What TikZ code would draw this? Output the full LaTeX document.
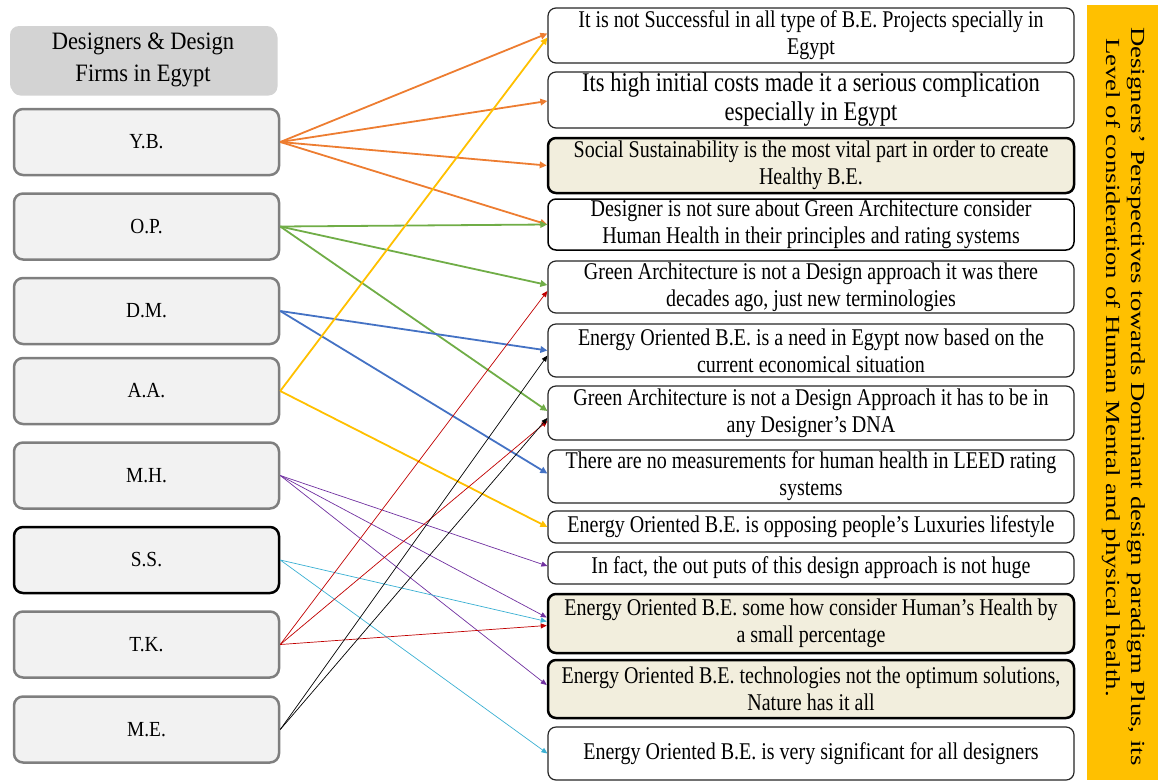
\documentclass[tikz,border=0pt]{standalone}
\usepackage{fontspec}
\setmainfont{Liberation Serif}
\newfontfamily\boxfont[FakeStretch=0.834]{Liberation Serif}
\newfontfamily\firmfont[FakeStretch=0.9]{Liberation Serif}
\newfontfamily\barfont[FakeStretch=1.34]{Liberation Serif}
\usetikzlibrary{arrows.meta,shadows}

\definecolor{cOrange}{HTML}{ED7D31}
\definecolor{cGreen}{HTML}{70AD47}
\definecolor{cBlue}{HTML}{4472C4}
\definecolor{cYellow}{HTML}{FFC000}
\definecolor{cPurple}{HTML}{7030A0}
\definecolor{cCyan}{HTML}{3BB0D3}
\definecolor{cRed}{HTML}{C00000}
\definecolor{firmFill}{HTML}{F2F2F2}
\definecolor{firmEdge}{HTML}{7F7F7F}
\definecolor{headFill}{HTML}{D3D3D3}
\definecolor{keyFill}{HTML}{F2EEDD}
\definecolor{barFill}{HTML}{FFC000}

\begin{document}
\begin{tikzpicture}[x=1pt,y=-1pt,
  firm/.style={draw=firmEdge, line width=2.5pt, fill=firmFill, rounded corners=9pt,
    minimum width=265pt, minimum height=66pt, inner sep=0pt,
    font=\firmfont\fontsize{21.5}{24}\selectfont},
  keyfirm/.style={firm, draw=black},
  head/.style={fill=headFill, rounded corners=9pt, minimum width=266pt, minimum height=67pt,
    inner sep=0pt, align=center, font=\firmfont\fontsize{25}{32}\selectfont,
    drop shadow={opacity=0.35, shadow xshift=1.5pt, shadow yshift=-2.5pt}},
  view/.style={draw=black!85, line width=1.2pt, fill=white, rounded corners=8pt,
    minimum width=526pt, inner sep=0pt, align=center,
    font=\boxfont\fontsize{24}{27}\selectfont},
  keyview/.style={view, fill=keyFill, draw=black, line width=2.5pt},
  bartext/.style={rotate=-90, inner sep=0pt, font=\barfont\fontsize{20}{25}\selectfont},
  link/.style={line width=1.8pt, -{Triangle[length=7pt,width=6.5pt]}},
  fine/.style={line width=0.7pt, -{Triangle[length=6pt,width=5pt]}}
]
\useasboundingbox (0,0) rectangle (1158,782);

% designers and firms
\node[head] (head) at (143,59.5) {Designers \& Design\\Firms in Egypt};
\node[firm] (yb) at (146.5,142) {Y.B.};
\node[firm] (op) at (146.5,226.5) {O.P.};
\node[firm] (dm) at (146.5,311) {D.M.};
\node[firm] (aa) at (146.5,391) {A.A.};
\node[firm] (mh) at (146.5,475.5) {M.H.};
\node[keyfirm] (ss) at (146.5,560) {S.S.};
\node[firm] (tk) at (146.5,644.5) {T.K.};
\node[firm] (me) at (146.5,729.5) {M.E.};

% perspectives
\node[view, minimum height=55pt] (v1) at (811,35.5)
  {It is not Successful in all type of B.E. Projects specially in\\Egypt};
\node[view, minimum height=56pt, font=\boxfont\fontsize{27}{29}\selectfont] (v2) at (811,100)
  {Its high initial costs made it a serious complication\\especially in Egypt};
\node[keyview, minimum height=55pt] (v3) at (811,165.5)
  {Social Sustainability is the most vital part in order to create\\Healthy B.E.};
\node[view, minimum height=51pt, draw=black, line width=1.5pt] (v4) at (811,224.5)
  {Designer is not sure about Green Architecture consider\\Human Health in their principles and rating systems};
\node[view, minimum height=52pt] (v5) at (811,287)
  {Green Architecture is not a Design approach it was there\\decades ago, just new terminologies};
\node[view, minimum height=53pt] (v6) at (811,350.5)
  {Energy Oriented B.E. is a need in Egypt now based on the\\current economical situation};
\node[view, minimum height=54pt] (v7) at (811,413)
  {Green Architecture is not a Design Approach it has to be in\\any Designer’s DNA};
\node[view, minimum height=53pt] (v8) at (811,476.5)
  {There are no measurements for human health in LEED rating\\systems};
\node[view, minimum height=32pt] (v9) at (811,527)
  {Energy Oriented B.E. is opposing people’s Luxuries lifestyle};
\node[view, minimum height=32pt] (v10) at (811,568)
  {In fact, the out puts of this design approach is not huge};
\node[keyview, minimum height=59pt] (v11) at (811,623.5)
  {Energy Oriented B.E. some how consider Human’s Health by\\a small percentage};
\node[keyview, minimum height=58pt] (v12) at (811,689)
  {Energy Oriented B.E. technologies not the optimum solutions,\\Nature has it all};
\node[view, minimum height=53pt] (v13) at (811,753.5)
  {Energy Oriented B.E. is very significant for all designers};

% side banner
\node[fill=barFill, minimum width=71pt, minimum height=775pt, inner sep=0pt] (bar) at (1122.5,392.5) {};
\node[bartext, anchor=base west] (bar1) at (1131,27)
  {Designers’ Perspectives towards Dominant design paradigm Plus, its};
\node[bartext, anchor=base west] (bar2) at (1106,38)
  {Level of consideration of Human Mental and physical health.};

% Y.B.
\draw[link, cOrange] (yb.east) -- ([yshift=2pt]v1.west);
\draw[link, cOrange] (yb.east) -- ([yshift=-1pt]v2.west);
\draw[link, cOrange] (yb.east) -- (v3.west);
\draw[link, cOrange] (yb.east) -- (v4.west);
% O.P.
\draw[link, cGreen] (op.east) -- (v4.west);
\draw[link, cGreen] (op.east) -- ([yshift=2pt]v5.west);
\draw[link, cGreen] (op.east) -- ([yshift=2pt]v7.west);
% D.M.
\draw[link, cBlue] (dm.east) -- (v6.west);
\draw[link, cBlue] (dm.east) -- ([yshift=3pt]v8.west);
% A.A.
\draw[link, cYellow] (aa.east) -- ([yshift=-2pt]v1.west);
\draw[link, cYellow] (aa.east) -- (v9.west);
% M.H.
\draw[fine, cPurple] (mh.east) -- ([yshift=2pt]v10.west);
\draw[fine, cPurple] (mh.east) -- ([yshift=6pt]v11.west);
\draw[fine, cPurple] (mh.east) -- ([yshift=4pt]v12.west);
% S.S.
\draw[fine, cCyan] (ss.east) -- ([yshift=2pt]v11.west);
\draw[fine, cCyan] (ss.east) -- (v13.west);
% T.K.
\draw[fine, cRed] (tk.east) -- ([yshift=-4pt]v5.west);
\draw[fine, cRed] (tk.east) -- ([yshift=-8pt]v7.west);
\draw[fine, cRed] (tk.east) -- ([yshift=-2pt]v11.west);
% M.E.
\draw[fine, black] (me.east) -- ([yshift=-5pt]v6.west);
\draw[fine, black] (me.east) -- ([yshift=-5pt]v7.west);
\end{tikzpicture}
\end{document}
